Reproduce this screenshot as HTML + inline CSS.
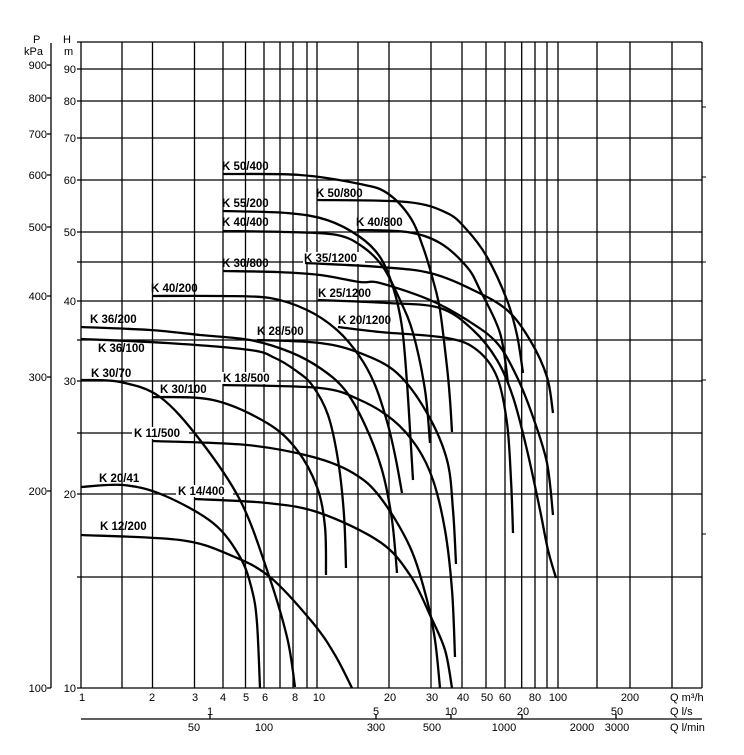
<!DOCTYPE html>
<html><head><meta charset="utf-8"><style>
body{margin:0;background:#fff;}
svg{display:block;font-family:"Liberation Sans",Arial,sans-serif;}
.g{stroke:#000;stroke-width:1.3;fill:none}
.c{stroke:#000;stroke-width:2.3;fill:none;stroke-linejoin:round;stroke-linecap:butt}
.t{font-size:11px;fill:#000}
.l{font-size:11.5px;font-weight:bold;fill:#000}
</style></head><body>
<svg id="s" width="744" height="755" viewBox="0 0 744 755" xmlns="http://www.w3.org/2000/svg">
<rect width="744" height="755" fill="#fff"/>
<g class="g">
<path d="M81 42V688M122 42V688M152.5 42V688M194.5 42V688M223 42V688M245.5 42V688M264 42V688M280 42V688M293 42V688M307 42V688M317 42V688M358 42V688M389 42V688M431 42V688M462 42V688M486 42V688M505 42V688M521.7 42V688M535 42V688M547 42V688M558 42V688M597 42V688M630 42V688M672 42V688M702 42V688"/>
<path d="M77 42H702M77 69H702M77 101H702M77 138H702M77 180H702M77 232H702M77 262H702M77 301H702M77 340H702M77 381H702M77 433H702M77 494H702M77 577H702M77 688H702"/>
<path d="M51 43V688M47 65H51M47 98H51M47 134H51M47 175H51M47 227H51M47 296H51M47 377H51M47 491H51M47 688H51"/>
<path d="M81 719H702M210 714V719M376 714V719M451 714V719M522 714V719M616 714V719"/>
<path d="M702 107H706M702 177H706M702 262H706M702 380H706M702 534H706" stroke-width="1"/>
</g>
<g fill="#fff">
<rect x="303" y="252" width="62" height="12"/>
<rect x="221" y="372" width="56" height="12"/>
<rect x="132" y="427" width="57" height="12"/>
<rect x="176" y="485" width="57" height="12"/>
</g>
<g class="t">
<text x="33" y="43">P</text><text x="24" y="55">kPa</text>
<text x="63" y="43">H</text><text x="64" y="55">m</text>
<g text-anchor="end">
<text x="47" y="69">900</text><text x="47" y="102">800</text><text x="47" y="138">700</text><text x="47" y="179">600</text><text x="47" y="231">500</text><text x="47" y="300">400</text><text x="47" y="381">300</text><text x="47" y="495">200</text><text x="47" y="692">100</text>
<text x="76" y="73">90</text><text x="76" y="105">80</text><text x="76" y="142">70</text><text x="76" y="184">60</text><text x="76" y="236">50</text><text x="76" y="305">40</text><text x="76" y="385">30</text><text x="76" y="498">20</text><text x="76" y="692">10</text>
</g>
<g text-anchor="middle">
<text x="82" y="701">1</text><text x="152" y="701">2</text><text x="195" y="701">3</text><text x="223" y="701">4</text><text x="246" y="701">5</text><text x="265" y="701">6</text><text x="295" y="701">8</text><text x="319" y="701">10</text><text x="390" y="701">20</text><text x="432" y="701">30</text><text x="463" y="701">40</text><text x="487" y="701">50</text><text x="505" y="701">60</text><text x="535" y="701">80</text><text x="558" y="701">100</text><text x="630" y="701">200</text>
<text x="210" y="715">1</text><text x="376" y="715">5</text><text x="451" y="715">10</text><text x="523" y="715">20</text><text x="617" y="715">50</text>
<text x="194" y="731">50</text><text x="264" y="731">100</text><text x="376" y="731">300</text><text x="432" y="731">500</text><text x="504" y="731">1000</text><text x="582" y="731">2000</text><text x="617" y="731">3000</text>
</g>
<text x="670" y="701">Q m³/h</text><text x="670" y="715">Q l/s</text><text x="670" y="731">Q l/min</text>
</g>
<g class="c" id="cv">
<polyline points="223,174 300,175 360,184 387,193 410,217 423,247 433,280 440,310 447,367 450,400 452,432"/>
<polyline points="317,200 407,202 447,213 467,230 487,257 507,300 517,335 523,373"/>
<polyline points="223,211 287,213 327,220 360,237 380,257 393,287 402,327 407,383 410,430 413,480"/>
<polyline points="223,231 287,232 337,235 363,247 383,267 400,300 413,333 425,390 430,443"/>
<polyline points="357,230 407,232 440,243 467,267 480,290 500,333 508,383"/>
<polyline points="305,263 380,267 430,273 473,290 507,310 530,340 547,377 553,413"/>
<polyline points="223,271 277,272 320,275 360,282 380,283 430,300 467,320 497,343 517,377 533,417 547,463 553,515"/>
<polyline points="318,300 387,303 440,308 473,330 497,360 513,397 527,450 540,510 548,550 556,578"/>
<polyline points="338,327 380,332 447,338 477,350 497,377 507,423 511,480 513,533"/>
<polyline points="152,296 220,296 270,298 307,310 337,330 360,357 375,385 388,425 396,460 402,493"/>
<polyline points="81,327 150,330 200,335 250,340 290,352 320,368 345,390 365,425 382,470 392,520 397,573"/>
<polyline points="81,339 167,343 250,350 275,358 295,370 312,385 328,415 338,460 344,515 346,568"/>
<polyline points="257,340 320,343 360,353 397,373 427,413 447,460 453,510 456,564"/>
<polyline points="223,385 320,388 360,400 393,420 417,447 433,480 445,530 452,590 455,657"/>
<polyline points="81,380 120,382 160,397 200,440 240,500 267,570 287,637 295,687"/>
<polyline points="152,397 213,400 267,423 297,450 317,487 325,527 326,575"/>
<polyline points="152,441 247,445 313,457 353,473 380,497 410,547 427,600 435,640 440,688"/>
<polyline points="195,499 267,503 320,513 380,542 410,575 430,615 445,650 452,688"/>
<polyline points="81,487 123,485 163,495 213,523 240,557 252,590 257,623 260,688"/>
<polyline points="81,535 180,540 230,555 270,577 313,623 335,655 352,688"/>
</g>
<g class="l">
<text x="222" y="170">K 50/400</text>
<text x="222" y="207">K 55/200</text>
<text x="222" y="226">K 40/400</text>
<text x="316" y="197">K 50/800</text>
<text x="356" y="226">K 40/800</text>
<text x="304" y="262">K 35/1200</text>
<text x="222" y="267">K 30/800</text>
<text x="318" y="297">K 25/1200</text>
<text x="338" y="324">K 20/1200</text>
<text x="151" y="292">K 40/200</text>
<text x="90" y="323">K 36/200</text>
<text x="98" y="352">K 36/100</text>
<text x="257" y="335">K 28/500</text>
<text x="91" y="377">K 30/70</text>
<text x="223" y="382">K 18/500</text>
<text x="160" y="393">K 30/100</text>
<text x="134" y="437">K 11/500</text>
<text x="99" y="482">K 20/41</text>
<text x="178" y="495">K 14/400</text>
<text x="100" y="530">K 12/200</text>
</g>
</svg>
<script>
(function(){
var ns="http://www.w3.org/2000/svg";
var pls=document.querySelectorAll("#cv polyline");
for(var k=0;k<pls.length;k++){
 var pl=pls[k];
 var a=pl.getAttribute("points").trim().split(/\s+/).map(function(s){var q=s.split(",");return [+q[0],+q[1]];});
 var d="M"+a[0][0]+" "+a[0][1];
 for(var i=0;i<a.length-1;i++){
  var p0=a[i>0?i-1:i],p1=a[i],p2=a[i+1],p3=a[i+2<a.length?i+2:i+1];
  var c1x=p1[0]+(p2[0]-p0[0])/6,c1y=p1[1]+(p2[1]-p0[1])/6;
  var c2x=p2[0]-(p3[0]-p1[0])/6,c2y=p2[1]-(p3[1]-p1[1])/6;
  d+="C"+c1x.toFixed(1)+" "+c1y.toFixed(1)+" "+c2x.toFixed(1)+" "+c2y.toFixed(1)+" "+p2[0]+" "+p2[1];
 }
 var p=document.createElementNS(ns,"path");
 p.setAttribute("d",d);
 pl.parentNode.replaceChild(p,pl);
}
})();
</script>
</body></html>
